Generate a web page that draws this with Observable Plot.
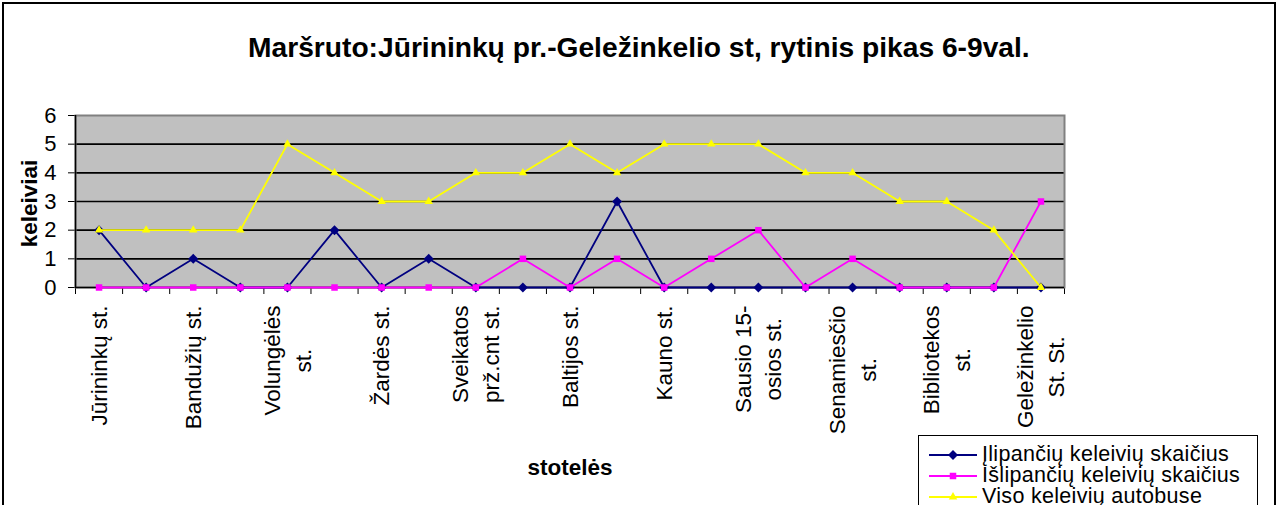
<!DOCTYPE html>
<html>
<head>
<meta charset="utf-8">
<script src="https://cdn.jsdelivr.net/npm/d3@7"></script>
<script src="https://cdn.jsdelivr.net/npm/@observablehq/plot@0.6"></script>
<style>
html, body { margin: 0; padding: 0; background: #fff; }
body { width: 1280px; height: 505px; overflow: hidden; position: relative; font-family: "Liberation Sans", Arial, sans-serif; color: #000; }
#frame { position: absolute; left: 2px; top: 2px; width: 1274px; height: 620px; border: 2px solid #000; box-sizing: border-box; }
#title { position: absolute; left: 248px; top: 33px; font-size: 28.2px; line-height: 28px; font-weight: bold; white-space: nowrap; }
#chart { position: absolute; left: 0; top: 100px; }
#legend { position: absolute; left: 918px; top: 435px; width: 340px; height: 120px; border: 1px solid #000; background: #fff; box-sizing: border-box; padding-top: 8px; }
#legend .row { display: flex; align-items: center; height: 21px; }
#legend svg { margin-left: 10px; flex: none; }
#legend span { margin-left: 5px; font-size: 21.5px; line-height: 21px; letter-spacing: 0.3px; white-space: nowrap; }
</style>
</head>
<body>
<div id="frame"></div>
<div id="title"></div>
<div id="chart"></div>
<div id="legend"></div>
<script>
// ---- data ----
const titleText = "Maršruto:Jūrininkų pr.-Geležinkelio st, rytinis pikas 6-9val.";
const xTitle = "stotelės";
const yTitle = "keleiviai";
const stops = [
  "Jūrininkų st.", "", "Bandužių st.", "", "Volungėlės\nst.", "", "Žardės st.", "",
  "Sveikatos\nprž.cnt st.", "", "Baltijos st.", "", "Kauno st.", "", "Sausio 15-\nosios st.", "",
  "Senamiesčio\nst.", "", "Bibliotekos\nst.", "", "Geležinkelio\nSt. St."
];
const boarding  = [2,0,1,0,0,2,0,1,0,0,0,3,0,0,0,0,0,0,0,0,0];
const alighting = [0,0,0,0,0,0,0,0,0,1,0,1,0,1,2,0,1,0,0,0,3];
const onboard   = [2,2,2,2,5,4,3,3,4,4,5,4,5,5,5,4,4,3,3,2,0];
const seriesNames = ["Įlipančių keleivių skaičius", "Išlipančių keleivių skaičius", "Viso keleivių autobuse"];
const seriesValues = [boarding, alighting, onboard];
const yTicks = [0, 1, 2, 3, 4, 5, 6];

// ---- styles ----
const seriesColors = ["#000080", "#ff00ff", "#ffff00"];
const seriesSymbols = ["diamond2", "square", "triangle"];
const seriesR = [4.5, 3.67, 3.15];
const d3Symbols = [d3.symbolDiamond2, d3.symbolSquare, d3.symbolTriangle];
const labelFont = 22.5;

document.getElementById("title").textContent = titleText;

const rows = [];
seriesNames.forEach((name, k) => seriesValues[k].forEach((v, i) => rows.push({i, v, s: name})));

const ctx = document.createElement("canvas").getContext("2d");
ctx.font = `${labelFont}px "Liberation Sans"`;
const textW = s => ctx.measureText(s).width;

const labelMarks = stops.map((s, i) => ({i, s})).filter(d => d.s).map(d => {
  const w = Math.max(...d.s.split("\n").map(textW));
  return Plot.text([d], {
    x: r => r.i + 0.5, y: () => 0, text: "s", rotate: -90,
    textAnchor: "middle", lineAnchor: "middle", lineHeight: 1.36,
    fontSize: labelFont, dx: -2, dy: 18 + w / 2
  });
});

const seriesMarks = seriesNames.flatMap((name, k) => {
  const d = rows.filter(r => r.s === name);
  return [
    Plot.line(d, {x: r => r.i + 0.5, y: "v", stroke: seriesColors[k], strokeWidth: 1.8}),
    Plot.dot(d, {x: r => r.i + 0.5, y: "v", fill: seriesColors[k], stroke: "none", symbol: seriesSymbols[k], r: seriesR[k]})
  ];
});

const svg = Plot.plot({
  width: 1280, height: 405,
  marginLeft: 75, marginRight: 216, marginTop: 15, marginBottom: 218,
  style: {fontFamily: '"Liberation Sans", Arial, sans-serif', fontSize: "22px", color: "#000", background: "transparent", overflow: "visible"},
  x: {domain: [0, stops.length], ticks: d3.range(stops.length + 1), tickSize: 7, tickFormat: () => "", label: null},
  y: {domain: [0, 6], ticks: yTicks, tickSize: 7, tickPadding: 12, tickFormat: d3.format("d"), label: null},
  marks: [
    Plot.frame({fill: "#c0c0c0"}),
    Plot.ruleY(yTicks.filter(t => t > 0 && t < 6), {stroke: "#000", strokeWidth: 1.6}),
    Plot.frame({stroke: "#808080", strokeWidth: 2}),
    Plot.ruleX([0], {stroke: "#000", strokeWidth: 1.5}),
    Plot.ruleY([0], {stroke: "#000", strokeWidth: 1.5}),
    ...seriesMarks,
    ...labelMarks,
    Plot.text([yTitle], {frameAnchor: "left", rotate: -90, dx: -46, dy: 2, fontSize: 22.5, fontWeight: "bold", textAnchor: "middle", lineAnchor: "middle"}),
    Plot.text([xTitle], {frameAnchor: "bottom", dy: 180, fontSize: 22.5, fontWeight: "bold", textAnchor: "middle", lineAnchor: "middle"})
  ]
});
document.getElementById("chart").appendChild(svg);

// ---- legend ----
const legend = d3.select("#legend");
seriesNames.forEach((name, k) => {
  const row = legend.append("div").attr("class", "row");
  const s = row.append("svg").attr("width", 48).attr("height", 21);
  s.append("line").attr("x1", 0).attr("x2", 48).attr("y1", 11).attr("y2", 11).attr("stroke", seriesColors[k]).attr("stroke-width", 1.8);
  s.append("path").attr("transform", "translate(24,11)").attr("fill", seriesColors[k])
    .attr("d", d3.symbol(d3Symbols[k], Math.PI * seriesR[k] * seriesR[k])());
  row.append("span").text(name);
});
</script>
</body>
</html>
